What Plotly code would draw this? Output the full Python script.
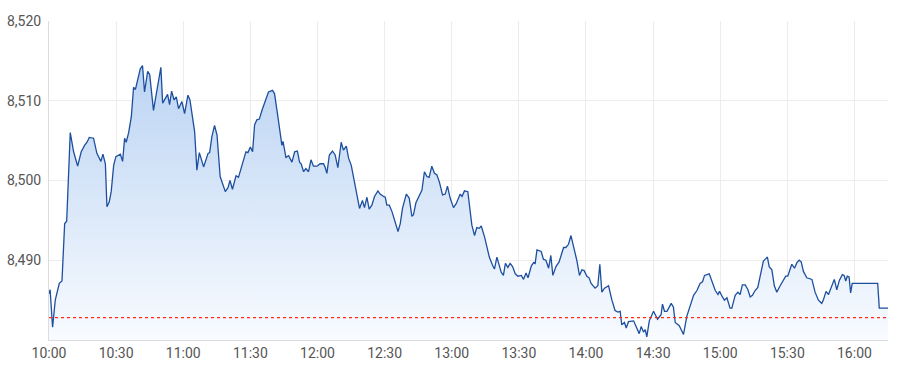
import pandas as pd
import plotly.graph_objects as go

# minutes after 10:00 and index level
minutes = [
    0, 0.5, 1.6, 2.8, 4.6, 5.8, 7.0, 7.9, 9.5, 11.0, 12.8, 14.4, 15.9, 17.0, 18.0, 19.9,
    21.4, 22.5, 23.2, 24.1, 25.2, 25.9, 26.9, 27.8, 28.9, 29.9, 31.9, 32.9, 33.8, 34.5,
    35.6, 36.8, 37.8, 38.6, 39.8, 40.8, 41.8, 42.7, 44.1, 45.0, 46.7, 48.3, 50.0, 50.8,
    52.0, 53.0, 53.9, 54.8, 55.9, 56.9, 57.9, 59.4, 60.6,
    62.1, 63.0, 65.1, 66.1, 67.2, 69.1, 71.1, 71.8, 72.8, 74.0, 75.1, 76.5, 78.8, 80.0,
    80.9, 82.0, 83.6, 84.7, 86.2, 88.0, 88.9, 90.0, 91.0, 91.9, 92.9, 94.0, 95.2, 96.7,
    98.1, 99.9, 100.8, 102.3, 104.1, 104.6, 105.9, 107.1, 108.6, 109.8, 111.0, 112.0,
    112.7, 113.8, 114.8, 116.0, 117.1, 118.2, 119.8, 121.2, 122.7, 123.5,
    124.2, 125.3, 126.7, 127.9, 129.1, 130.6, 131.6, 132.9, 133.9, 135.1, 136.6, 137.6,
    138.8, 140.1, 141.0, 142.1, 143.1, 144.3, 145.5, 147.0, 148.0, 149.5, 150.3, 151.0,
    152.1, 153.3, 154.8, 156.0, 157.0, 158.0, 159.7, 161.0, 162.2, 162.9, 164.0, 165.5,
    166.7, 167.8, 168.9, 169.9, 171.1, 172.3, 173.4, 174.5, 175.9, 177.1, 178.1, 179.3,
    180.8, 182.0, 183.8, 184.6, 185.7,
    187.2, 189.0, 190.2, 191.2, 192.3, 193.2, 194.7, 196.8, 198.2, 199.1, 200.2, 202.1,
    203.1, 204.0, 205.1, 206.1, 207.2, 208.4, 209.6, 211.1, 212.1, 213.2, 214.1, 215.6,
    216.6, 217.3, 218.1, 220.0, 221.0, 222.1, 223.3, 224.3, 225.2, 226.6, 228.0, 230.0,
    231.0, 232.2, 233.3, 234.4, 235.9, 237.1, 238.2, 239.2, 240.4, 241.4, 242.3, 244.1,
    245.3, 246.2, 247.1, 248.3,
    250.1, 251.6, 253.0, 254.3, 255.3, 256.0, 257.2, 258.0, 259.0, 261.3, 262.8, 263.8,
    264.7, 265.7, 266.5, 267.2, 268.3, 270.2, 272.0, 273.6, 274.2, 275.1, 276.2, 278.1,
    279.1, 279.9, 281.7, 283.6, 285.1, 286.6, 288.1, 289.6, 291.0, 292.1, 293.0, 295.1,
    296.3, 297.8, 299.0, 299.7, 301.0, 301.9, 303.0, 304.4, 305.2, 306.7, 307.9, 308.9,
    309.9, 311.2,
    312.4, 313.4, 314.4, 315.6, 316.8, 317.8, 319.3, 320.4, 321.1, 321.9, 323.1, 324.2,
    325.3, 326.8, 328.3, 329.3, 330.2, 330.9, 332.0, 333.2, 334.3, 335.3, 336.2, 337.2,
    338.7, 341.0, 342.4, 343.9, 345.4, 346.1, 347.3, 348.4, 349.1, 350.2, 351.0, 352.1,
    353.3, 354.6, 355.4, 356.1, 356.8, 357.6, 358.3, 359.0, 360.5, 370.4, 371.1, 375.2,
]

prices = [
    8485.8, 8486.3, 8481.6, 8485.0, 8487.1, 8487.4, 8494.6, 8494.9, 8506.0, 8503.6, 8501.8,
    8503.6, 8504.4, 8504.8, 8505.4, 8505.3, 8503.4, 8502.7, 8502.4, 8503.3, 8502.1, 8496.7,
    8497.3, 8498.6, 8501.9, 8503.0, 8503.3, 8502.4, 8505.3, 8504.8, 8506.0, 8508.0, 8511.7,
    8511.4, 8513.0, 8514.0, 8514.4, 8511.1, 8513.7, 8513.3, 8508.8, 8511.6, 8514.2, 8509.7,
    8510.4, 8510.8, 8509.5, 8511.2, 8510.1, 8510.5, 8509.0, 8509.9, 8508.4,
    8510.7, 8510.1, 8506.1, 8501.3, 8503.5, 8501.7, 8503.4, 8503.5, 8505.5, 8506.9, 8505.7,
    8500.5, 8498.6, 8499.1, 8500.0, 8498.9, 8500.6, 8500.4, 8501.8, 8503.6, 8503.5, 8504.2,
    8503.6, 8507.0, 8507.6, 8507.7, 8508.8, 8509.9, 8511.1, 8511.3, 8510.9, 8508.0, 8504.4,
    8504.9, 8502.9, 8503.1, 8502.3, 8503.6, 8503.7, 8502.3, 8502.1, 8501.1, 8501.5, 8501.1,
    8502.6, 8501.8, 8501.8, 8502.1, 8502.1, 8501.6,
    8500.9, 8503.2, 8503.7, 8503.2, 8501.6, 8504.8, 8503.8, 8504.3, 8502.8, 8501.9, 8499.6,
    8498.0, 8496.5, 8497.5, 8496.6, 8497.9, 8496.4, 8496.9, 8498.0, 8498.7, 8498.3, 8498.0,
    8497.9, 8496.9, 8496.9, 8496.1, 8494.8, 8493.6, 8494.6, 8496.5, 8498.3, 8497.8, 8495.5,
    8495.7, 8497.2, 8498.0, 8498.8, 8501.1, 8500.5, 8500.4, 8501.8, 8500.9, 8500.7, 8499.8,
    8498.2, 8498.3, 8499.3, 8497.8, 8496.6, 8497.1, 8498.3, 8498.0, 8498.7,
    8498.6, 8494.4, 8493.1, 8494.1, 8494.0, 8494.3, 8492.9, 8490.4, 8489.4, 8488.9, 8490.4,
    8488.5, 8488.1, 8489.6, 8489.1, 8489.6, 8489.2, 8488.3, 8488.0, 8488.1, 8487.6, 8488.4,
    8487.8, 8489.3, 8489.7, 8489.6, 8491.3, 8491.1, 8490.1, 8490.0, 8489.0, 8490.6, 8488.1,
    8489.2, 8489.8, 8491.6, 8491.6, 8492.0, 8493.1, 8491.8, 8490.0, 8488.1, 8488.8, 8488.7,
    8488.0, 8487.8, 8487.1, 8486.5, 8486.8, 8489.5, 8486.0, 8486.5,
    8486.8, 8485.0, 8483.7, 8483.5, 8483.6, 8481.9, 8482.2, 8481.5, 8482.3, 8482.4, 8481.5,
    8480.8, 8481.7, 8481.0, 8481.3, 8480.4, 8482.4, 8483.6, 8482.6, 8483.2, 8484.5, 8483.6,
    8483.6, 8484.6, 8484.1, 8482.2, 8481.8, 8480.7, 8483.0, 8484.3, 8485.6, 8486.2, 8487.1,
    8487.3, 8488.1, 8488.3, 8487.3, 8486.2, 8485.7, 8486.1, 8485.4, 8485.0, 8485.3, 8484.0,
    8484.0, 8485.6, 8486.0, 8485.7, 8486.9, 8486.9,
    8486.3, 8485.4, 8485.6, 8486.2, 8486.6, 8487.9, 8489.9, 8490.2, 8490.4, 8489.2, 8488.8,
    8486.8, 8486.0, 8486.8, 8487.6, 8488.0, 8488.0, 8488.7, 8489.5, 8489.0, 8489.7, 8490.0,
    8489.8, 8488.6, 8487.8, 8487.6, 8486.0, 8485.0, 8484.6, 8485.0, 8486.1, 8485.7, 8486.2,
    8487.2, 8487.6, 8486.3, 8487.5, 8488.2, 8488.1, 8487.4, 8488.0, 8487.9, 8485.9, 8487.1,
    8487.1, 8487.1, 8484.0, 8484.0,
]

prev_close = 8482.8
y_ticks = [8490, 8500, 8510, 8520]
x_tick_labels = ["10:00", "10:30", "11:00", "11:30", "12:00", "12:30", "13:00",
                 "13:30", "14:00", "14:30", "15:00", "15:30", "16:00"]

day = "2024-01-02"
base = pd.Timestamp(f"{day} 10:00")
times = base + pd.to_timedelta(minutes, unit="min")
tick_vals = [pd.Timestamp(f"{day} {t}") for t in x_tick_labels]
x_end = base + pd.Timedelta(minutes=375)

fig = go.Figure()
fig.add_trace(go.Scatter(
    x=times, y=prices, mode="lines",
    line=dict(color="#1d4f9e", width=1.3),
    fill="tozeroy",
    fillgradient=dict(type="vertical", start=8480, stop=8515,
                      colorscale=[[0, "rgba(248,251,255,1)"], [1, "rgba(186,211,243,1)"]]),
    hoverinfo="skip", showlegend=False,
))
fig.add_trace(go.Scatter(
    x=[base, x_end], y=[prev_close, prev_close], mode="lines",
    line=dict(color="#ff2a14", width=1.2, dash="3px,3px"),
    hoverinfo="skip", showlegend=False,
))

fig.update_layout(
    width=900, height=375,
    margin=dict(l=49, r=12, t=21, b=35),
    paper_bgcolor="white", plot_bgcolor="white",
    font=dict(family="Roboto, Open Sans, sans-serif", size=14, color="#555"),
    xaxis=dict(range=[base, x_end], tickvals=tick_vals, ticktext=x_tick_labels,
               showgrid=True, gridcolor="#ececec", gridwidth=1,
               showline=True, linecolor="#dcdcdc", linewidth=1,
               ticks="", zeroline=False, automargin=False),
    yaxis=dict(range=[8480, 8520], tickvals=y_ticks, tickformat=",d",
               showgrid=True, gridcolor="#ececec", gridwidth=1,
               showline=True, linecolor="#dcdcdc", linewidth=1,
               ticks="", zeroline=False, ticklabelstandoff=4, automargin=False),
)

fig.write_html("out.html")
